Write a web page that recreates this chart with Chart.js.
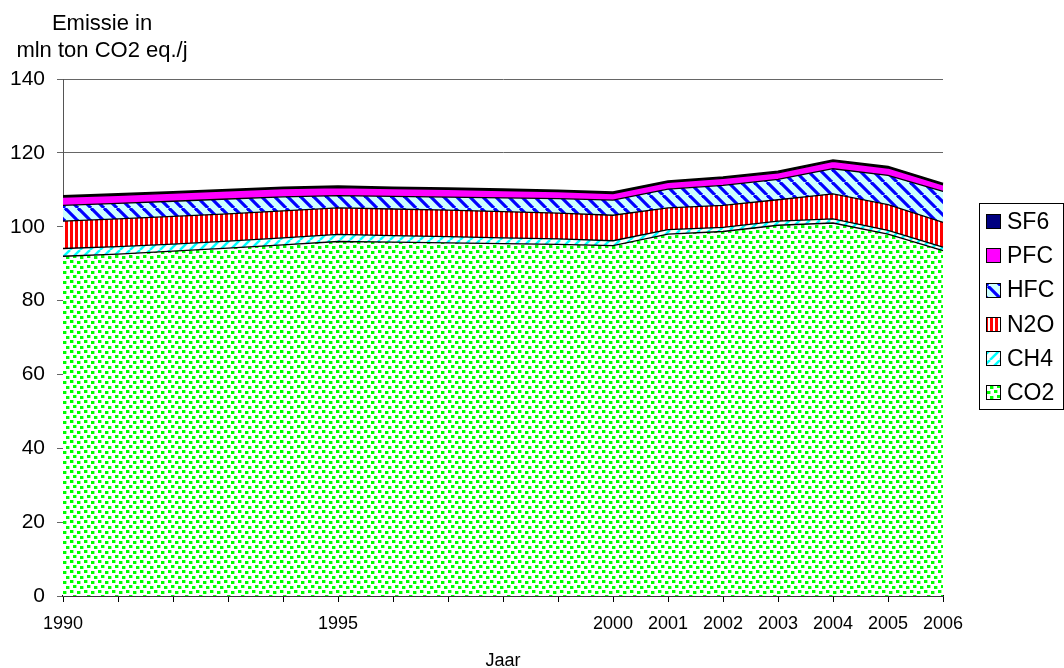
<!DOCTYPE html>
<html><head><meta charset="utf-8">
<script src="https://cdn.jsdelivr.net/npm/chart.js@4.4.1/dist/chart.umd.min.js"></script>
<style>html,body{margin:0;padding:0;background:#fff;}#wrap{width:1064px;height:668px;position:relative;}</style>
</head><body><div id="wrap"><canvas id="c" width="1064" height="668"></canvas></div>
<script>
const years = ['1990','1991','1992','1993','1994','1995','1996','1997','1998','1999','2000','2001','2002','2003','2004','2005','2006'];
const tickLabels = ['1990','','','','','1995','','','','','2000','2001','2002','2003','2004','2005','2006'];
const yTitleLines = ['Emissie in', 'mln ton CO2 eq./j'];
const xTitle = 'Jaar';
const seriesNames = ['CO2','CH4','N2O','HFC','PFC','SF6'];
const co2 = [92.0, 92.6, 93.4, 94.2, 95.1, 96.0, 95.8, 95.6, 95.4, 95.2, 94.9, 98.0, 98.7, 100.4, 101.0, 98.0, 93.5];
const ch4 = [2.1, 2.0, 1.9, 1.9, 1.9, 1.9, 1.8, 1.7, 1.6, 1.5, 1.3, 1.2, 1.1, 1.1, 1.1, 1.0, 1.0];
const n2o = [7.4, 7.5, 7.5, 7.4, 7.3, 7.2, 7.2, 7.2, 7.1, 7.0, 6.9, 5.9, 6.0, 5.8, 6.8, 7.0, 6.7];
const hfc = [4.3, 4.2, 4.1, 4.0, 3.8, 3.3, 3.4, 3.5, 3.7, 3.9, 4.1, 5.1, 5.4, 5.5, 6.8, 7.9, 8.4];
const pfc = [2.2, 2.2, 2.2, 2.2, 2.2, 2.2, 2.1, 2.1, 2.0, 1.9, 1.8, 1.8, 1.9, 1.8, 2.0, 2.0, 1.7];
const sf6 = [0.3, 0.3, 0.3, 0.3, 0.3, 0.3, 0.3, 0.3, 0.3, 0.3, 0.3, 0.3, 0.3, 0.3, 0.3, 0.3, 0.3];
const yTicks = {min: 0, max: 140, step: 20};

const FONT = "'Liberation Sans', Arial, sans-serif";
const helper = document.createElement('canvas').getContext('2d');
function makePattern(w, h, draw) {
  const c = document.createElement('canvas'); c.width = w; c.height = h;
  const g = c.getContext('2d'); draw(g, w, h);
  return helper.createPattern(c, 'repeat');
}
const patCO2 = makePattern(14, 10, (g, w, h) => {
  g.fillStyle = '#fff'; g.fillRect(0, 0, w, h);
  g.fillStyle = '#00ff00';
  g.fillRect(0, 0, 3, 3); g.fillRect(7, 1, 3, 3); g.fillRect(3, 5, 3, 3); g.fillRect(10, 6, 3, 3);
  g.fillStyle = '#99ff99';
  g.fillRect(3, 0, 1, 3); g.fillRect(10, 1, 1, 3); g.fillRect(6, 5, 1, 3); g.fillRect(13, 6, 1, 3);
});
const patCH4 = makePattern(10, 10, (g, w, h) => {
  g.fillStyle = '#fff'; g.fillRect(0, 0, w, h);
  g.strokeStyle = '#00ffff'; g.lineWidth = 2.5;
  for (const o of [-10, 0, 10]) { g.beginPath(); g.moveTo(o, h); g.lineTo(o + w, 0); g.stroke(); }
});
const patN2O = makePattern(5, 4, (g, w, h) => {
  g.fillStyle = '#fff'; g.fillRect(0, 0, w, h);
  g.fillStyle = '#ff0000'; g.fillRect(0, 0, 3, h);
});
const patHFC = makePattern(13, 13, (g, w, h) => {
  g.fillStyle = '#ccffff'; g.fillRect(0, 0, w, h);
  g.strokeStyle = '#0000ff'; g.lineWidth = 3.2;
  for (const o of [-13, 0, 13]) { g.beginPath(); g.moveTo(o, 0); g.lineTo(o + w, h); g.stroke(); }
});
const fills = [patCO2, patCH4, patN2O, patHFC, '#ff00ff', '#000080'];
const values = [co2, ch4, n2o, hfc, pfc, sf6];

const datasets = seriesNames.map((n, i) => ({
  label: n,
  data: values[i],
  backgroundColor: fills[i],
  borderColor: '#000',
  borderWidth: i === 5 ? 2.2 : 1.3,
  fill: i === 0 ? 'origin' : '-1',
  pointRadius: 0,
  tension: 0
}));

const titlePlugin = {
  id: 'yTitle',
  afterDraw(chart) {
    const ctx = chart.ctx; ctx.save();
    ctx.fillStyle = '#000'; ctx.font = '22px ' + FONT; ctx.textAlign = 'center'; ctx.textBaseline = 'alphabetic';
    ctx.fillText(yTitleLines[0], 102, 29.5);
    ctx.fillText(yTitleLines[1], 102, 57);
    ctx.restore();
  }
};
const legendPlugin = {
  id: 'boxLegend',
  afterDraw(chart) {
    const ctx = chart.ctx; ctx.save();
    ctx.strokeStyle = '#000'; ctx.lineWidth = 1;
    ctx.strokeRect(979.5, 203.5, 84, 206);
    const ds = chart.data.datasets;
    ctx.font = '23px ' + FONT; ctx.textBaseline = 'middle'; ctx.textAlign = 'left';
    for (let k = 0; k < ds.length; k++) {
      const d = ds[ds.length - 1 - k];
      const cy = 221.7 + k * 34.2;
      ctx.fillStyle = d.backgroundColor;
      ctx.fillRect(986, Math.round(cy - 7.5), 15, 15);
      ctx.strokeStyle = '#000';
      ctx.strokeRect(986.5, Math.round(cy - 7.5) + 0.5, 14, 14);
      ctx.fillStyle = '#000';
      ctx.fillText(d.label, 1007, cy + 1);
    }
    ctx.restore();
  }
};

new Chart(document.getElementById('c'), {
  type: 'line',
  data: { labels: tickLabels, datasets },
  options: {
    responsive: false,
    animation: false,
    layout: { padding: { left: 0, right: 121, top: 79, bottom: 0 } },
    plugins: { legend: { display: false }, tooltip: { enabled: false }, title: { display: false } },
    scales: {
      x: {
        type: 'category',
        offset: false,
        grid: { display: true, drawOnChartArea: false, drawTicks: true, tickLength: 6, color: '#000' },
        border: { display: true, color: '#000', width: 1.5 },
        ticks: { autoSkip: false, maxRotation: 0, minRotation: 0, color: '#000', font: { family: FONT, size: 18 }, padding: 11 },
        title: { display: true, text: xTitle, color: '#000', font: { family: FONT, size: 18 }, padding: { top: 0, bottom: -4 } },
        afterFit(s) { s.height = 72; }
      },
      y: {
        stacked: true,
        min: yTicks.min, max: yTicks.max,
        grid: { color: '#666', lineWidth: 1, drawTicks: true, tickLength: 6 },
        border: { display: true, color: '#555', width: 1 },
        ticks: { stepSize: yTicks.step, color: '#000', font: { family: FONT, size: 21 }, padding: 12 },
        afterFit(s) { s.width = 63; }
      }
    }
  },
  plugins: [titlePlugin, legendPlugin]
});
</script>
</body></html>
